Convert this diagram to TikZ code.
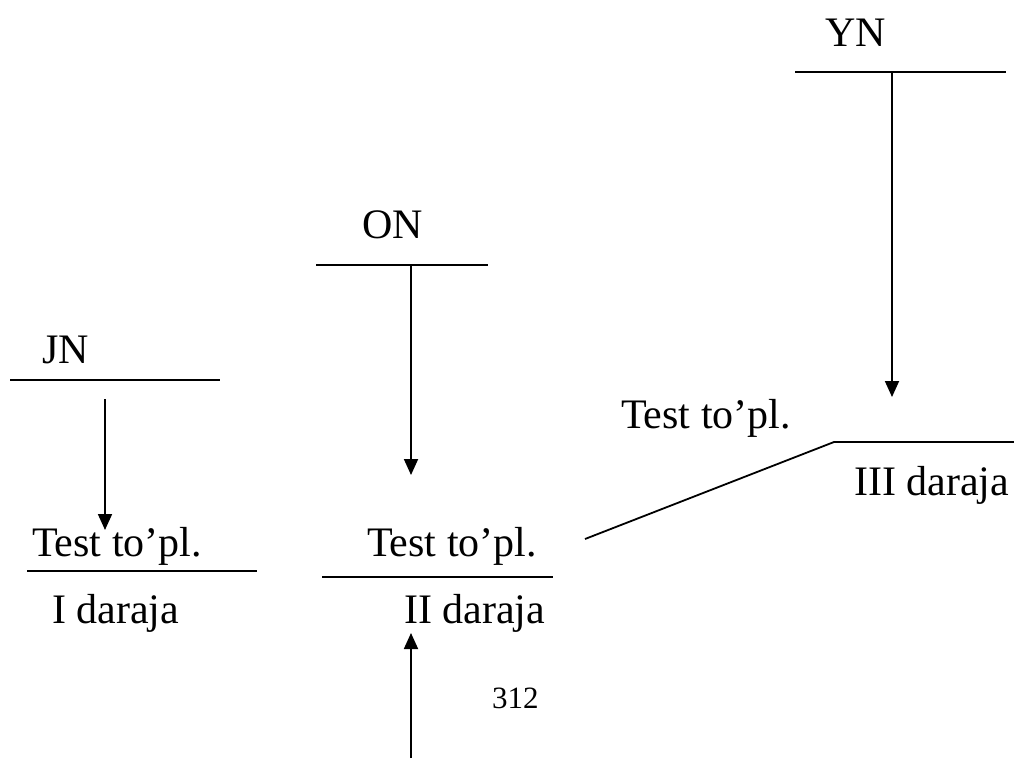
\documentclass[tikz,border=0pt]{standalone}
\usepackage{fontspec}
\setmainfont{Liberation Serif}
\usetikzlibrary{arrows.meta}
\begin{document}
\begin{tikzpicture}[x=1pt,y=-1pt,
  lbl/.style={anchor=base west,inner sep=0pt,font=\fontsize{42}{48}\selectfont},
  small/.style={anchor=base west,inner sep=0pt,font=\fontsize{31}{36}\selectfont},
  rule/.style={line width=1.8pt},
  arr/.style={line width=1.8pt,-{Triangle[width=14pt,length=16pt]}}]
\useasboundingbox (0,0) rectangle (1014,758);
% labels
\node[lbl] (yn) at (825,46) {YN};
\node[lbl] (on) at (362,238) {ON};
\node[lbl] (jn) at (42,363) {JN};
\node[lbl] (t1) at (32,556) {Test to’pl.};
\node[lbl] (d1) at (52,623) {I daraja};
\node[lbl] (t2) at (367,556) {Test to’pl.};
\node[lbl] (d2) at (404,623) {II daraja};
\node[lbl] (t3) at (621,428) {Test to’pl.};
\node[lbl] (d3) at (854,495) {III daraja};
\node[small] (pg) at (492,708) {312};
% coordinates
\coordinate (ynL) at (795,72);  \coordinate (ynR) at (1006,72);
\coordinate (ynS) at (892,72);  \coordinate (ynT) at (892,397);
\coordinate (onL) at (316,265); \coordinate (onR) at (488,265);
\coordinate (onS) at (411,265); \coordinate (onT) at (411,475);
\coordinate (jnL) at (10,380);  \coordinate (jnR) at (220,380);
\coordinate (jnS) at (105,399); \coordinate (jnT) at (105,530);
\coordinate (l1L) at (27,571);  \coordinate (l1R) at (257,571);
\coordinate (l2L) at (322,577); \coordinate (l2R) at (553,577);
\coordinate (sl) at (585,539);  \coordinate (l3L) at (834,442);
\coordinate (l3R) at (1014,442);
\coordinate (upS) at (411,758); \coordinate (upT) at (411,633);
% rules
\draw[rule] (ynL) -- (ynR);
\draw[rule] (onL) -- (onR);
\draw[rule] (jnL) -- (jnR);
\draw[rule] (l1L) -- (l1R);
\draw[rule] (l2L) -- (l2R);
\draw[rule] (sl) -- (l3L) -- (l3R);
% arrows
\draw[arr] (ynS) -- (ynT);
\draw[arr] (onS) -- (onT);
\draw[arr] (jnS) -- (jnT);
\draw[arr] (upS) -- (upT);
\end{tikzpicture}
\end{document}
